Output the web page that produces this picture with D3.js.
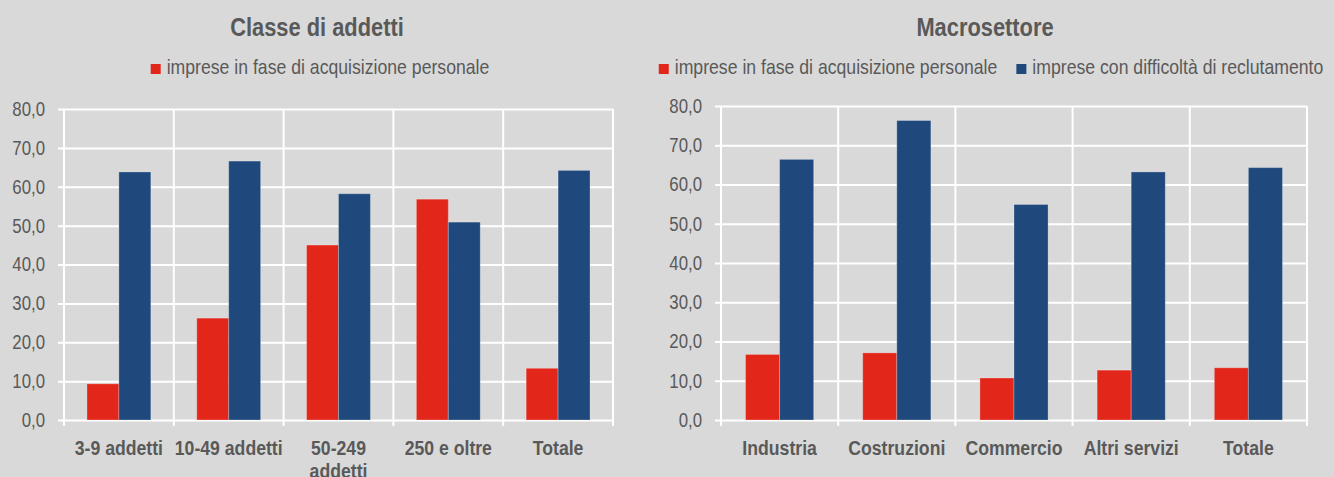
<!DOCTYPE html>
<html>
<head>
<meta charset="utf-8">
<script src="https://cdn.jsdelivr.net/npm/d3@7"></script>
<style>
  body { margin: 0; background: #d9d9d9; }
  svg { display: block; font-family: "Liberation Sans", Arial, sans-serif; }
</style>
</head>
<body>
<svg width="1334" height="477"></svg>
<script>
// dati (valori %)
let categorieAddetti = ["3-9 addetti", "10-49 addetti", "50-249 addetti", "250 e oltre", "Totale"];
let acquisizioneAddetti = [9.3, 26.2, 45.0, 56.8, 13.3];
let difficoltaAddetti = [63.8, 66.6, 58.2, 50.9, 64.2];

let categorieSettore = ["Industria", "Costruzioni", "Commercio", "Altri servizi", "Totale"];
let acquisizioneSettore = [16.7, 17.1, 10.7, 12.7, 13.3];
let difficoltaSettore = [66.4, 76.3, 54.9, 63.2, 64.3];

let serie = ["imprese in fase di acquisizione personale", "imprese con difficoltà di reclutamento"];
let yTicks = [0, 10, 20, 30, 40, 50, 60, 70, 80];

let svg = d3.select("svg");
let colore = d3.scaleOrdinal().domain(serie).range(["#e2261a", "#1f487c"]);
let it = d3.formatLocale({decimal: ",", thousands: ".", grouping: [3], currency: ["€", ""]});
let fmt = it.format(".1f");
let textColor = "#595959";
let K = 0.84; // compressione orizzontale (font "narrow" non disponibile)

// stringe il testo in orizzontale come un carattere narrow
function narrow(sel) {
  sel.each(function() {
    let spans = d3.select(this).selectAll("tspan");
    let nodes = spans.empty() ? [this] : spans.nodes();
    nodes.forEach(n => {
      let l = n.getComputedTextLength();
      d3.select(n).attr("textLength", l * K).attr("lengthAdjust", "spacingAndGlyphs");
    });
  });
}

function wrap(text, width) {
  text.each(function() {
    let t = d3.select(this),
        words = t.text().split(/\s+/).reverse(),
        word, line = [], lineNo = 0,
        y = t.attr("y"), dy = parseFloat(t.attr("dy")),
        tspan = t.text(null).append("tspan").attr("x", 0).attr("y", y).attr("dy", dy + "em");
    while (word = words.pop()) {
      line.push(word);
      tspan.text(line.join(" "));
      if (tspan.node().getComputedTextLength() * K > width && line.length > 1) {
        line.pop();
        tspan.text(line.join(" "));
        line = [word];
        tspan = t.append("tspan").attr("x", 0).attr("y", y).attr("dy", ++lineNo * 1.1 + dy + "em").text(word);
      }
    }
  });
}

function chart(opt) {
  let m = opt.margin,
      width = opt.right - m.left,
      p = svg.append("g");

  let data = opt.categorie.map((c, i) => ({cat: c, values: [
    {key: serie[0], v: opt.acq[i]},
    {key: serie[1], v: opt.diff[i]}
  ]}));

  let x0 = d3.scaleBand().domain(opt.categorie).range([m.left, opt.right]).padding(0);
  let x1 = d3.scaleBand().domain(serie).range([0, x0.bandwidth()]).paddingInner(0).paddingOuter(0.72);
  let y = d3.scaleLinear().domain([0, 80]).range([420, m.top]);

  // titolo
  p.append("text")
    .attr("x", opt.center).attr("y", 36)
    .attr("text-anchor", "middle")
    .attr("font-size", 26).attr("font-weight", "bold")
    .attr("fill", textColor)
    .text(opt.title)
    .call(narrow);

  // legenda
  let leg = p.append("g").attr("font-size", 21).attr("fill", textColor);
  let items = leg.selectAll("g").data(opt.legenda).enter().append("g");
  items.append("rect").attr("width", 10).attr("height", 10).attr("y", 64).attr("fill", d => colore(d));
  items.append("text").attr("x", 16).attr("y", 74).text(d => d).call(narrow);
  let off = 0;
  items.each(function() {
    let g = d3.select(this);
    g.attr("transform", "translate(" + off + ",0)");
    off += 16 + (+g.select("text").attr("textLength")) + 19;
  });
  off -= 19;
  leg.attr("transform", "translate(" + (opt.legendCenter - off / 2) + ",0)");

  // griglia orizzontale + etichette asse y
  let yAxis = p.append("g")
    .attr("transform", "translate(" + opt.right + ",0)")
    .call(d3.axisLeft(y).tickValues(yTicks).tickFormat(fmt).tickSize(width + 6).tickPadding(13));
  yAxis.select(".domain").remove();
  yAxis.selectAll("line").attr("stroke", "#fff").attr("stroke-width", 2);
  yAxis.selectAll("text").attr("font-size", 20).attr("fill", textColor).attr("font-family", null).call(narrow);

  // griglia verticale ai bordi delle categorie
  let bordi = opt.categorie.map(d => x0(d)).concat([opt.right]);
  p.append("g").selectAll("line").data(bordi).enter().append("line")
    .attr("x1", d => d).attr("x2", d => d)
    .attr("y1", m.top).attr("y2", 426)
    .attr("stroke", "#fff").attr("stroke-width", 2);

  // barre
  p.append("g").selectAll("g").data(data).enter().append("g")
    .attr("transform", d => "translate(" + x0(d.cat) + ",0)")
    .selectAll("rect").data(d => d.values).enter().append("rect")
      .attr("x", d => x1(d.key))
      .attr("y", d => y(d.v))
      .attr("width", x1.bandwidth())
      .attr("height", d => y(0) - y(d.v))
      .attr("fill", d => colore(d.key))
      .attr("stroke", "#ffffff").attr("stroke-opacity", 0.25).attr("stroke-width", 1);

  // etichette categorie
  let xAxis = p.append("g")
    .attr("transform", "translate(0,420)")
    .call(d3.axisBottom(x0).tickSize(0).tickPadding(20));
  xAxis.select(".domain").remove();
  xAxis.selectAll("text")
    .attr("font-size", 21).attr("font-weight", "bold").attr("fill", textColor).attr("font-family", null)
    .call(wrap, x0.bandwidth() - 1)
    .call(narrow);
}

chart({
  title: "Classe di addetti",
  center: 317,
  legendCenter: 320,
  margin: {left: 64, top: 109},
  right: 613,
  categorie: categorieAddetti,
  acq: acquisizioneAddetti,
  diff: difficoltaAddetti,
  legenda: [serie[0]]
});

chart({
  title: "Macrosettore",
  center: 985,
  legendCenter: 991,
  margin: {left: 721, top: 106},
  right: 1307,
  categorie: categorieSettore,
  acq: acquisizioneSettore,
  diff: difficoltaSettore,
  legenda: serie
});
</script>
</body>
</html>
